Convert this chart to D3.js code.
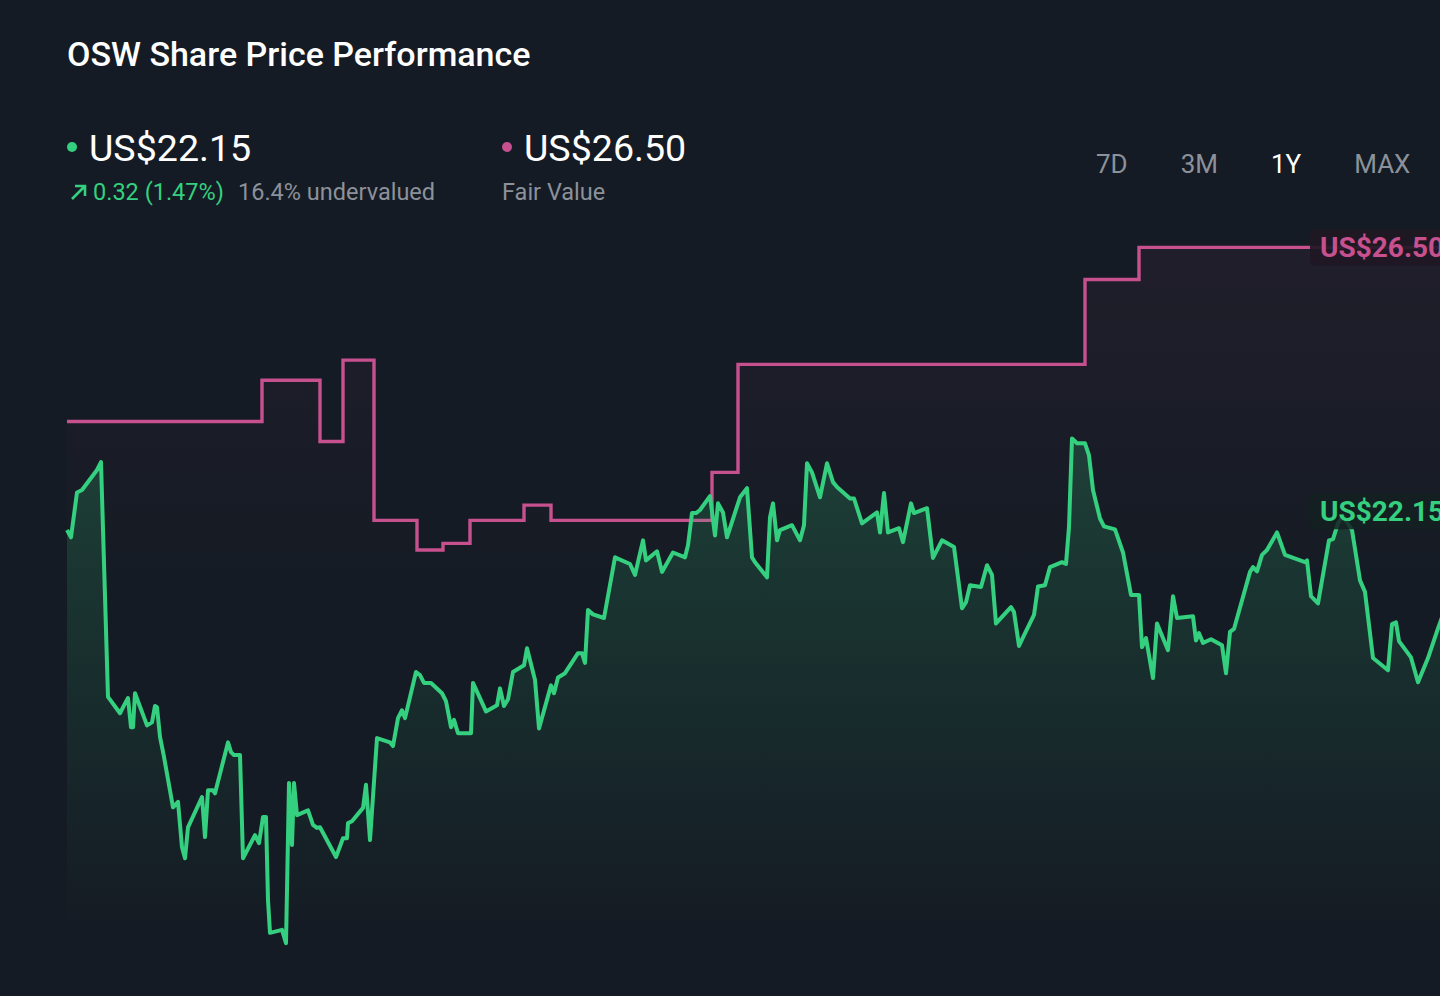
<!DOCTYPE html>
<html>
<head>
<meta charset="utf-8">
<script src="https://cdn.jsdelivr.net/npm/d3@7"></script>
<style>
  html, body { margin: 0; padding: 0; background: #151b24; overflow: hidden; }
  svg { display: block; font-family: Roboto, "Noto Sans", sans-serif; }
</style>
</head>
<body>
<script>
var w = 1440;
var h = 996;

// trading sessions (x) and closing prices in US$
var priceDays = [
  0, 0.8, 2, 3, 6, 6.8, 8.2, 10.6, 11.4, 12.2, 12.8, 13.2, 13.6, 16, 17, 17.6, 18, 18.6, 19.4, 21.2,
  22.2, 23, 23.6, 24.2, 27, 27.6, 28.2, 29.2, 29.6, 32.2, 32.8, 33.4, 34.6, 35.2, 37.6, 38.4, 39.2, 39.8, 40.2, 40.6,
  43, 43.8, 44.4, 45, 45.4, 46, 48.2, 49.2, 50, 50.6, 53.8, 55.2, 56, 56.2, 57, 59.2, 59.8, 60.6, 62, 64.6,
  65.2, 66.2, 67, 67.6, 69.8, 70.6, 71.4, 72.8, 75, 75.8, 76.8, 77.4, 78.2, 80.8, 81.2, 83.8, 86, 86.6, 87.4, 88.2,
  89.2, 91.4, 92, 93.6, 94.4, 96.8, 97.4, 98.2, 99.6, 102.2, 103, 103.6, 104.2, 105.2, 107.4, 109.6, 112.6, 113.6, 115.2, 115.8,
  118, 119, 121.2, 123.6, 124.2, 125, 125.8, 126.6, 128.6, 129.6, 130.2, 131.2, 132, 134.6, 136, 137, 137.6, 140, 140.6, 141.2,
  142, 142.6, 145, 146.6, 147.4, 148, 149, 150.6, 152, 153.2, 154, 156.6, 157.4, 159, 162, 162.6, 163.4, 164.2, 166.4, 167.2,
  168.8, 169.4, 172, 173.2, 175, 177.4, 179, 179.8, 180.6, 182.8, 184, 185, 185.8, 188.8, 189.4, 190.4, 191.2, 193.4, 194.2, 195.6,
  196.6, 199, 199.8, 200.4, 201, 202, 203.6, 204.4, 205.2, 206.6, 207.4, 209.6, 211.2, 212.8, 214.4, 215, 215.8, 217.2, 218, 220.2,
  221.2, 222, 225.2, 225.8, 226.4, 227.2, 228.8, 231, 231.8, 232.6, 233.4, 236.6, 237.2, 238, 239, 240, 242, 243.6, 247.6, 248,
  248.8, 250.2, 252.4, 253.2, 254.2, 255.2, 257, 258.6, 259.6, 261.2, 264.2, 265, 265.8, 266.4, 268.8, 270.2, 272.2, 274.2, 278.4, 282.6
];
var prices = [
  21.84, 21.72, 22.46, 22.50, 22.83, 22.96, 19.09, 18.82, 18.95, 19.07, 18.59, 18.59, 19.15, 18.62, 18.67, 18.94, 18.92, 18.43, 18.10, 17.27,
  17.36, 16.61, 16.43, 16.94, 17.44, 16.78, 17.55, 17.55, 17.50, 18.34, 18.18, 18.13, 18.13, 16.43, 16.81, 16.68, 17.11, 17.11, 15.74, 15.20,
  15.25, 15.03, 17.67, 16.65, 17.67, 17.14, 17.22, 16.98, 16.93, 16.94, 16.45, 16.76, 16.76, 17.01, 17.04, 17.26, 17.64, 16.73, 18.41, 18.34,
  18.28, 18.74, 18.87, 18.74, 19.50, 19.45, 19.32, 19.32, 19.15, 19.02, 18.59, 18.71, 18.49, 18.49, 19.32, 18.85, 18.95, 19.23, 18.94, 19.05,
  19.50, 19.61, 19.89, 19.37, 18.57, 19.28, 19.15, 19.41, 19.48, 19.81, 19.81, 19.65, 20.52, 20.45, 20.39, 21.39, 21.28, 21.10, 21.67, 21.34,
  21.49, 21.15, 21.47, 21.39, 21.59, 22.12, 22.12, 22.17, 22.40, 21.75, 22.28, 22.13, 21.72, 22.38, 22.53, 21.39, 21.31, 21.06, 22.05, 22.28,
  21.67, 21.84, 21.92, 21.67, 21.92, 22.94, 22.79, 22.38, 22.94, 22.63, 22.55, 22.36, 22.36, 21.95, 22.13, 21.80, 22.45, 21.80, 21.87, 21.64,
  22.28, 22.12, 22.20, 21.38, 21.67, 21.56, 20.55, 20.65, 20.93, 20.90, 21.26, 21.10, 20.30, 20.57, 20.49, 19.93, 20.07, 20.44, 20.91, 20.93,
  21.23, 21.31, 21.28, 21.89, 23.35, 23.27, 23.27, 23.07, 22.50, 22.03, 21.90, 21.85, 21.47, 20.77, 20.77, 19.91, 20.06, 19.40, 20.30, 19.86,
  20.75, 20.39, 20.42, 20.02, 20.14, 19.98, 20.04, 19.94, 19.48, 20.16, 20.21, 21.15, 21.23, 21.16, 21.43, 21.51, 21.80, 21.43, 21.31, 21.34,
  20.75, 20.63, 21.67, 21.69, 21.95, 22.07, 21.84, 21.01, 20.82, 19.73, 19.53, 20.29, 20.32, 20.01, 19.74, 19.33, 19.73, 20.22, 21.18, 22.15
];

// analyst fair value estimate, changes at these sessions
var fairDays = [0, 39, 50.6, 55.2, 61.4, 70, 75.2, 80.6, 91.4, 96.8, 129, 134.2, 203.6, 214.4, 282.6];
var fairValues = [23.63, 24.31, 23.30, 24.64, 22.00, 21.51, 21.62, 22.00, 22.25, 22.00, 22.79, 24.57, 25.97, 26.50, 26.50];

var periods = ["7D", "3M", "1Y", "MAX"];
var activePeriod = "1Y";

var lastPrice = "US$22.15";
var fairLabel = "US$26.50";
var changeText = "0.32 (1.47%)";
var valuationText = "16.4% undervalued";

var green = "#34d07f";
var pink = "#c7508f";
var grey = "#8c919a";

var priceData = priceDays.map(function (d, i) { return { t: d, v: prices[i] }; });
var fairData = fairDays.map(function (d, i) { return { t: d, v: fairValues[i] }; });

var margin = { left: 67, right: -40, top: 217, bottom: 51 };

var xScale = d3.scaleLinear()
  .domain([0, d3.max(priceDays)])
  .range([margin.left, w - margin.right]);

var yScale = d3.scaleLinear()
  .domain([15, 27])
  .range([h - margin.bottom, margin.top]);

var svg = d3.select("body").append("svg").attr("width", w).attr("height", h);

svg.append("rect").attr("width", w).attr("height", h).attr("fill", "#151b24");

var defs = svg.append("defs");
var gGreen = defs.append("linearGradient").attr("id", "gradGreen")
  .attr("gradientUnits", "userSpaceOnUse")
  .attr("x1", 0).attr("x2", 0)
  .attr("y1", yScale(d3.max(prices))).attr("y2", yScale(15.3));
gGreen.append("stop").attr("offset", "0%").attr("stop-color", green).attr("stop-opacity", 0.2);
gGreen.append("stop").attr("offset", "100%").attr("stop-color", green).attr("stop-opacity", 0);

var gPink = defs.append("linearGradient").attr("id", "gradPink")
  .attr("gradientUnits", "userSpaceOnUse")
  .attr("x1", 0).attr("x2", 0)
  .attr("y1", yScale(26.5)).attr("y2", yScale(21));
gPink.append("stop").attr("offset", "0%").attr("stop-color", pink).attr("stop-opacity", 0.06);
gPink.append("stop").attr("offset", "100%").attr("stop-color", pink).attr("stop-opacity", 0);

//Fair value faint area + step line
var fairArea = d3.area()
  .curve(d3.curveStepAfter)
  .x(function (d) { return xScale(d.t); })
  .y0(yScale(15))
  .y1(function (d) { return yScale(d.v); });

svg.append("path").datum(fairData).attr("d", fairArea).attr("fill", "url(#gradPink)");

var fairLine = d3.line()
  .curve(d3.curveStepAfter)
  .x(function (d) { return xScale(d.t); })
  .y(function (d) { return yScale(d.v); });

svg.append("path").datum(fairData).attr("d", fairLine)
  .attr("fill", "none").attr("stroke", pink).attr("stroke-width", 3.4);

//Price area + line
var priceArea = d3.area()
  .x(function (d) { return xScale(d.t); })
  .y0(yScale(15))
  .y1(function (d) { return yScale(d.v); });

svg.append("path").datum(priceData).attr("d", priceArea).attr("fill", "url(#gradGreen)");

var priceLine = d3.line()
  .x(function (d) { return xScale(d.t); })
  .y(function (d) { return yScale(d.v); });

svg.append("path").datum(priceData).attr("d", priceLine)
  .attr("fill", "none").attr("stroke", green).attr("stroke-width", 4)
  .attr("stroke-linejoin", "round");

//End labels (cut by the right edge, as in the source)
function endLabel(value, text, color, bg) {
  var y = yScale(value);
  var x0 = xScale(d3.max(priceDays)) - 170;
  svg.append("rect")
    .attr("x", x0).attr("y", y - 18).attr("width", 180).attr("height", 36)
    .attr("rx", 4).attr("fill", bg);
  svg.append("text")
    .attr("x", x0 + 10).attr("y", y + 10)
    .attr("font-size", "28px").attr("font-weight", 700)
    .attr("fill", color)
    .text(text);
}
endLabel(fairValues[fairValues.length - 1], fairLabel, pink, "rgba(32,24,36,0.92)");
endLabel(prices[prices.length - 1], lastPrice, green, "rgba(20,32,34,0.85)");

//Title
svg.append("text")
  .attr("x", 67).attr("y", 66)
  .attr("font-size", "34px").attr("font-weight", 500)
  .attr("fill", "#ffffff")
  .text("OSW Share Price Performance");

//Header values
svg.append("circle").attr("cx", 72).attr("cy", 147).attr("r", 5).attr("fill", green);
svg.append("text").attr("x", 89).attr("y", 161)
  .attr("font-size", "37.6px").attr("fill", "#ffffff").text(lastPrice);

svg.append("circle").attr("cx", 507).attr("cy", 147).attr("r", 5).attr("fill", pink);
svg.append("text").attr("x", 524).attr("y", 161)
  .attr("font-size", "37.6px").attr("fill", "#ffffff").text(fairLabel);

svg.append("path")
  .attr("d", "M72,199 L84,187 M75,186 L85,186 L85,196")
  .attr("fill", "none").attr("stroke", green).attr("stroke-width", 2.6);

svg.append("text").attr("x", 93).attr("y", 200)
  .attr("font-size", "23.5px").attr("fill", green).text(changeText);
svg.append("text").attr("x", 238).attr("y", 200)
  .attr("font-size", "23.5px").attr("fill", grey).text(valuationText);
svg.append("text").attr("x", 502).attr("y", 200)
  .attr("font-size", "23.5px").attr("fill", grey).text("Fair Value");

//Period buttons, laid out left to right with a fixed gap
var px = 1096;
periods.forEach(function (p) {
  var t = svg.append("text")
    .attr("x", px)
    .attr("y", 173)
    .attr("font-size", "26px")
    .attr("fill", p == activePeriod ? "#ffffff" : grey)
    .text(p);
  px += t.node().getComputedTextLength() + 53;
});
</script>
</body>
</html>
